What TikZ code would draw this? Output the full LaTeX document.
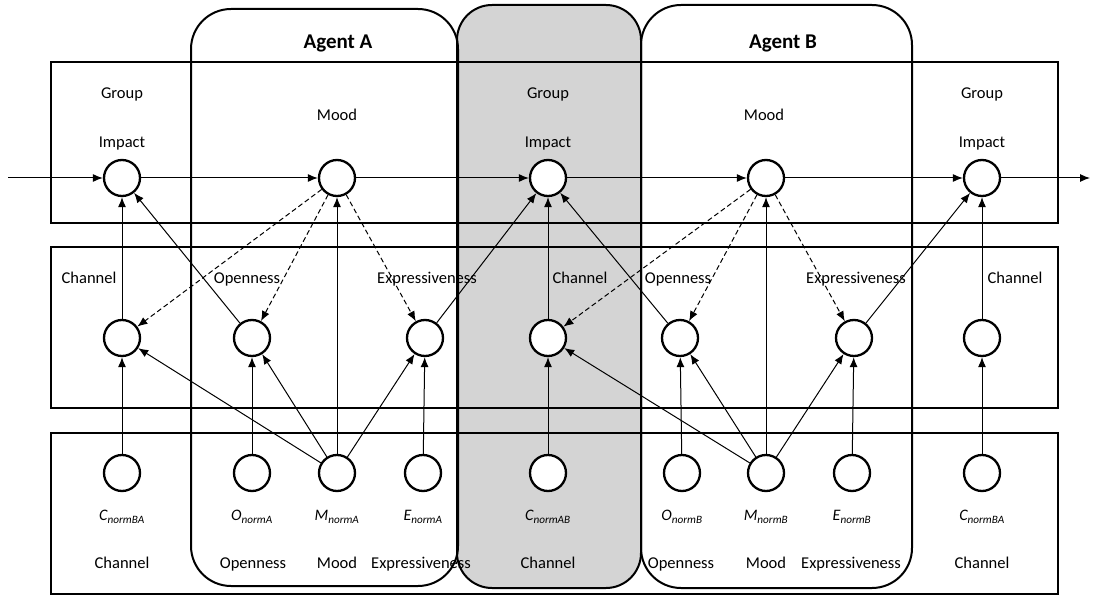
\documentclass[tikz,border=0pt]{standalone}
\usepackage{fontspec}
\setmainfont{Carlito}
\usetikzlibrary{arrows.meta}
\begin{document}
\begin{tikzpicture}[x=1pt,y=-1pt,
  circ/.style={circle, draw, line width=2.3pt, minimum size=36pt, inner sep=0pt, fill=white},
  lbl/.style={font=\fontsize{16.5}{19}\selectfont, inner sep=1pt, text height=0.75em, text depth=0.22em, yshift=-3pt},
  sub/.style={font=\fontsize{16}{19}\selectfont\itshape, inner sep=1pt},
  ttl/.style={font=\fontsize{21}{25}\selectfont\bfseries, inner sep=1pt},
  arr/.style={-{Latex[length=10pt,width=8pt]}, line width=1pt},
  darr/.style={arr, dash pattern=on 5pt off 3pt},
  rowbox/.style={draw, line width=2pt},
  agentbox/.style={draw, line width=2pt, rounded corners=40pt}]
\useasboundingbox (0,0) rectangle (1093,596);
\definecolor{midgray}{RGB}{212,212,212}
% shaded middle box
\fill[midgray, rounded corners=35pt] (457,5) rectangle (641,588);
% row boxes
\draw[rowbox] (51,62) rectangle (1058,223);
\draw[rowbox] (51,247) rectangle (1058,408);
\draw[rowbox] (51,433) rectangle (1058,594);
% agent boxes
\draw[agentbox] (191,9) rectangle (458,586);
\draw[agentbox] (641,5) rectangle (912,588);
\draw[agentbox, rounded corners=35pt] (457,5) rectangle (641,588);
\node[ttl] (ta) at (338,43) {Agent A};
\node[ttl] (tb) at (783,43) {Agent B};
% top row
\node[circ] (gi1) at (122,178) {};
\node[circ] (ma) at (337,178) {};
\node[circ] (gi2) at (548,178) {};
\node[circ] (mb) at (766,178) {};
\node[circ] (gi3) at (982,178) {};
\node[lbl] (l1a) at (122,93) {Group};
\node[lbl] (l1b) at (122,142) {Impact};
\node[lbl] (l2) at (337,115) {Mood};
\node[lbl] (l3a) at (548,93) {Group};
\node[lbl] (l3b) at (548,142) {Impact};
\node[lbl] (l4) at (764,115) {Mood};
\node[lbl] (l5a) at (982,93) {Group};
\node[lbl] (l5b) at (982,142) {Impact};
% middle row
\node[circ] (c1) at (122,338) {};
\node[circ] (oa) at (252,338) {};
\node[circ] (ea) at (425,338) {};
\node[circ] (c2) at (548,338) {};
\node[circ] (ob) at (680,338) {};
\node[circ] (eb) at (854,338) {};
\node[circ] (c3) at (982,338) {};
\node[lbl] (m1) at (89,278) {Channel};
\node[lbl] (m2) at (247,278) {Openness};
\node[lbl] (m3) at (427,278) {Expressiveness};
\node[lbl] (m4) at (580,278) {Channel};
\node[lbl] (m5) at (678,278) {Openness};
\node[lbl] (m6) at (856,278) {Expressiveness};
\node[lbl] (m7) at (1015,278) {Channel};
% bottom row
\node[circ] (bc1) at (122,473) {};
\node[circ] (boa) at (252,473) {};
\node[circ] (bma) at (337,473) {};
\node[circ] (bea) at (423,473) {};
\node[circ] (bc2) at (548,473) {};
\node[circ] (bob) at (682,473) {};
\node[circ] (bmb) at (766,473) {};
\node[circ] (beb) at (852,473) {};
\node[circ] (bc3) at (982,473) {};
\node[sub] (s1) at (122,517) {C\textsubscript{normBA}};
\node[sub] (s2) at (252,517) {O\textsubscript{normA}};
\node[sub] (s3) at (337,517) {M\textsubscript{normA}};
\node[sub] (s4) at (423,517) {E\textsubscript{normA}};
\node[sub] (s5) at (548,517) {C\textsubscript{normAB}};
\node[sub] (s6) at (682,517) {O\textsubscript{normB}};
\node[sub] (s7) at (766,517) {M\textsubscript{normB}};
\node[sub] (s8) at (852,517) {E\textsubscript{normB}};
\node[sub] (s9) at (982,517) {C\textsubscript{normBA}};
\node[lbl] (t1) at (122,563) {Channel};
\node[lbl] (t2) at (253,563) {Openness};
\node[lbl] (t3) at (337,563) {Mood};
\node[lbl] (t4) at (421,563) {Expressiveness};
\node[lbl] (t5) at (548,563) {Channel};
\node[lbl] (t6) at (681,563) {Openness};
\node[lbl] (t7) at (766,563) {Mood};
\node[lbl] (t8) at (851,563) {Expressiveness};
\node[lbl] (t9) at (982,563) {Channel};
% in / out
\coordinate (in) at (8,178);
\coordinate (out) at (1090,178);
\draw[arr] (in) -- (gi1);
\draw[arr] (gi1) -- (ma);
\draw[arr] (ma) -- (gi2);
\draw[arr] (gi2) -- (mb);
\draw[arr] (mb) -- (gi3);
\draw[arr] (gi3) -- (out);
% middle to top
\draw[arr] (c1) -- (gi1);
\draw[arr] (oa) -- (gi1);
\draw[arr] (ea) -- (gi2);
\draw[arr] (c2) -- (gi2);
\draw[arr] (ob) -- (gi2);
\draw[arr] (eb) -- (gi3);
\draw[arr] (c3) -- (gi3);
\draw[arr] (bma) -- (ma);
\draw[arr] (bmb) -- (mb);
% dashed from mood
\draw[darr] (ma) -- (c1);
\draw[darr] (ma) -- (oa);
\draw[darr] (ma) -- (ea);
\draw[darr] (mb) -- (c2);
\draw[darr] (mb) -- (ob);
\draw[darr] (mb) -- (eb);
% bottom to middle
\draw[arr] (bc1) -- (c1);
\draw[arr] (boa) -- (oa);
\draw[arr] (bma) -- (oa);
\draw[arr] (bma) -- (c1);
\draw[arr] (bma) -- (ea);
\draw[arr] (bea) -- (ea);
\draw[arr] (bc2) -- (c2);
\draw[arr] (bob) -- (ob);
\draw[arr] (bmb) -- (ob);
\draw[arr] (bmb) -- (c2);
\draw[arr] (bmb) -- (eb);
\draw[arr] (beb) -- (eb);
\draw[arr] (bc3) -- (c3);
\end{tikzpicture}
\end{document}
